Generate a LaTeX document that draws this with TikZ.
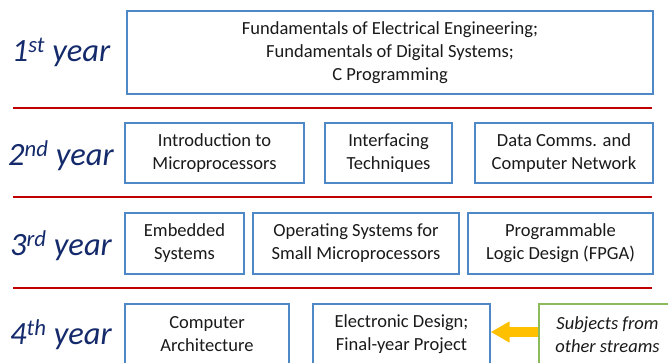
\documentclass[tikz,border=0pt]{standalone}
\usepackage{fontspec}
\setmainfont{Carlito}
\usetikzlibrary{arrows.meta}
\definecolor{boxblue}{HTML}{4F88C6}
\definecolor{rulered}{HTML}{C00000}
\definecolor{streamgreen}{HTML}{8CBB5C}
\definecolor{arrowgold}{HTML}{FFC000}
\definecolor{yearnavy}{HTML}{142A6B}
\definecolor{bodytext}{HTML}{1A1A1A}
\tikzset{
  subject/.style={draw=boxblue, line width=1.4pt, fill=white, text=bodytext,
    align=center, font=\fontsize{18.5}{23}\selectfont, inner sep=0pt},
  stream/.style={subject, draw=streamgreen, font=\fontsize{18.5}{23}\selectfont\itshape},
  divider/.style={draw=rulered, line width=2.4pt},
  yearlabel/.style={text=yearnavy, font=\fontsize{32.5}{36}\selectfont\itshape, inner sep=0pt},
  feed/.style={draw=arrowgold, line width=10pt,
    -{Triangle[length=19pt,width=20pt]}},
}
\newcommand{\yr}[2]{#1\textsuperscript{#2} year}
\begin{document}
\begin{tikzpicture}[x=1pt,y=-1pt]
  \useasboundingbox (0,0) rectangle (668,363);
  \clip (0,0) rectangle (668,363);

  % dividers between the years
  \draw[divider] (13,108) -- (652,108);
  \draw[divider] (13,197) -- (652,197);
  \draw[divider] (13,288) -- (652,288);

  % year labels
  \node[yearlabel] (y1) at (61,52)  {\yr{1}{st}};
  \node[yearlabel] (y2) at (61,156) {\yr{2}{nd}};
  \node[yearlabel] (y3) at (61,246) {\yr{3}{rd}};
  \node[yearlabel] (y4) at (61,335) {\yr{4}{th}};

  % 1st year
  \node[subject, minimum width=526pt, minimum height=83pt] (fund) at (390,52.5)
    {Fundamentals of Electrical Engineering;\\Fundamentals of Digital Systems;\\C Programming};

  % 2nd year
  \node[subject, minimum width=179pt, minimum height=60pt] (micro) at (214.5,153)
    {Introduction to\\Microprocessors};
  \node[subject, minimum width=127pt, minimum height=60pt] (intf) at (388.5,153)
    {Interfacing\\Techniques};
  \node[subject, minimum width=178pt, minimum height=60pt] (comms) at (564,153)
    {Data Comms. and\\Computer Network};

  % 3rd year
  \node[subject, minimum width=119pt, minimum height=61pt] (emb) at (184.5,243.5)
    {Embedded\\Systems};
  \node[subject, minimum width=206pt, minimum height=61pt] (os) at (356,243.5)
    {Operating Systems for\\Small Microprocessors};
  \node[subject, minimum width=185pt, minimum height=61pt] (fpga) at (560.5,243.5)
    {Programmable\\Logic Design (FPGA)};

  % 4th year
  \node[subject, minimum width=164pt, minimum height=61pt] (arch) at (207,334.5)
    {Computer\\Architecture};
  \node[subject, minimum width=177pt, minimum height=61pt] (edp) at (401.5,334.5)
    {Electronic Design;\\Final-year Project};
  \node[stream, minimum width=137pt, minimum height=61pt] (other) at (607.5,334.5)
    {Subjects from\\other streams};

  % subjects feeding in from other streams
  \draw[feed] (other.west |- 0,332) -- (edp.east |- 0,332);
\end{tikzpicture}
\end{document}
